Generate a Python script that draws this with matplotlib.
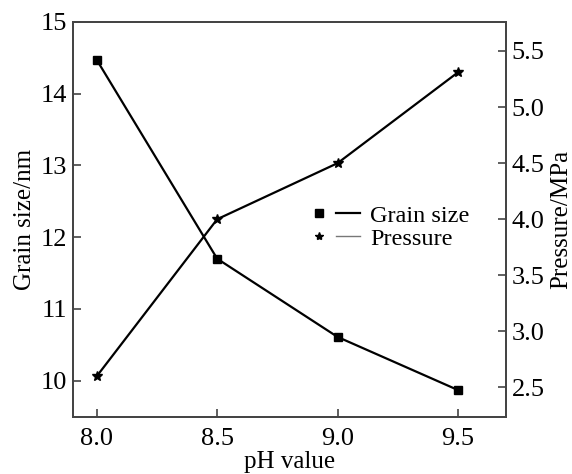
import matplotlib
matplotlib.use("Agg")
from matplotlib import pyplot as plt
from matplotlib.lines import Line2D
from matplotlib.legend_handler import HandlerTuple

# pH values and measured results
ph = [8.0, 8.5, 9.0, 9.5]
grain_size = [14.47, 11.7, 10.61, 9.87]
pressure = [2.6, 4.0, 4.5, 5.31]

plt.rcParams["font.family"] = ["Liberation Serif", "DejaVu Serif"]
plt.rcParams["font.size"] = 18

fig = plt.figure(figsize=(5.72, 4.74), dpi=100)
ax = fig.add_axes([0.127, 0.121, 0.758, 0.833])
ax2 = ax.twinx()

spine_color = "#444444"

# Grain size on the left axis
ax.plot(ph, grain_size, color="black", linewidth=1.6, marker="s", markersize=5.5)
# Pressure on the right axis
ax2.plot(ph, pressure, color="black", linewidth=1.6, marker="*", markersize=7)

ax.set_xlim(7.9, 9.7)
ax.set_ylim(9.5, 15.0)
ax2.set_ylim(2.24, 5.76)

ax.set_xticks([8.0, 8.5, 9.0, 9.5])
ax.set_xticklabels(["8.0", "8.5", "9.0", "9.5"])
ax.set_yticks([10, 11, 12, 13, 14, 15])
ax2.set_yticks([2.5, 3.0, 3.5, 4.0, 4.5, 5.0, 5.5])
ax2.set_yticklabels(["2.5", "3.0", "3.5", "4.0", "4.5", "5.0", "5.5"])

ax.tick_params(axis="both", direction="in", length=6, width=1.2, color=spine_color,
               labelsize=19)
ax.tick_params(axis="x", pad=8)
ax.tick_params(axis="y", pad=4)
ax2.tick_params(axis="y", direction="in", length=6, width=1.2, color=spine_color,
                pad=4, labelsize=19)

for a in (ax, ax2):
    for s in a.spines.values():
        s.set_color(spine_color)
        s.set_linewidth(1.3)

ax.set_xlabel("pH value", labelpad=1)
ax.set_ylabel("Grain size/nm", labelpad=3)
ax2.set_ylabel("Pressure/MPa", labelpad=4)

# Legend: marker, then line, then text
gs_handle = (Line2D([], [], color="black", marker="s", markersize=5.5, linestyle="none"),
             Line2D([], [], color="black", linewidth=1.6))
pr_handle = (Line2D([], [], color="black", marker="*", markersize=6, linestyle="none"),
             Line2D([], [], color="#777777", linewidth=1.0))
ax.legend([gs_handle, pr_handle], ["Grain size", "Pressure"],
          handler_map={tuple: HandlerTuple(ndivide=None, pad=0.2)},
          loc="center left", bbox_to_anchor=(0.54, 0.48),
          frameon=False, handlelength=2.2, handletextpad=0.4,
          labelspacing=0.05, borderpad=0, borderaxespad=0, fontsize=17.5)

fig.savefig("out.png", dpi=100)
